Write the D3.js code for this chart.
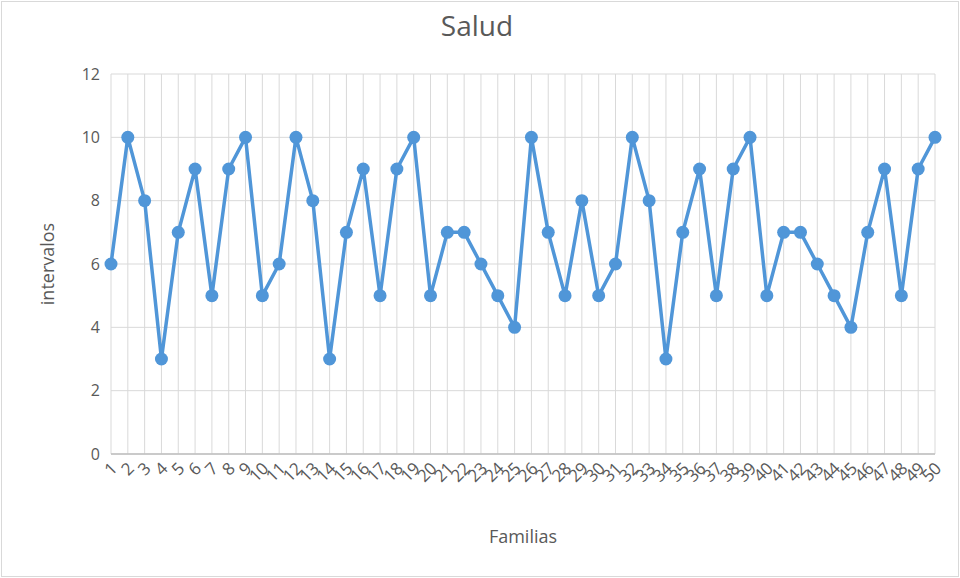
<!DOCTYPE html>
<html>
<head>
<meta charset="utf-8">
<script src="https://cdn.jsdelivr.net/npm/d3@7"></script>
<style>
  body { margin: 0; background: #fff; }
  text { font-family: "Open Sans", "Noto Sans", sans-serif; fill: #595959; }
</style>
</head>
<body>
<div id="chart"></div>
<script>
// data
var familias = d3.range(1, 51);
var intervalos = [6, 10, 8, 3, 7, 9, 5, 9, 10, 5,
                  6, 10, 8, 3, 7, 9, 5, 9, 10, 5,
                  7, 7, 6, 5, 4, 10, 7, 5, 8, 5,
                  6, 10, 8, 3, 7, 9, 5, 9, 10, 5,
                  7, 7, 6, 5, 4, 7, 9, 5, 9, 10];
var yTicks = [0, 2, 4, 6, 8, 10, 12];

var width = 960, height = 578;
var margin = {top: 74, right: 25, bottom: 124, left: 111};

var svg = d3.select("#chart").append("svg")
    .attr("width", width)
    .attr("height", height);

// chart border
svg.append("rect")
    .attr("x", 1.5).attr("y", 1.5)
    .attr("width", width - 3).attr("height", height - 3)
    .attr("fill", "#fff")
    .attr("stroke", "#d9d9d9");

var x = d3.scalePoint()
    .domain(familias)
    .range([margin.left, width - margin.right]);

var y = d3.scaleLinear()
    .domain([0, 12])
    .range([height - margin.bottom, margin.top]);

// horizontal gridlines
svg.append("g").selectAll("line")
    .data(yTicks)
    .enter().append("line")
    .attr("x1", margin.left).attr("x2", width - margin.right)
    .attr("y1", function(d) { return y(d); })
    .attr("y2", function(d) { return y(d); })
    .attr("stroke", "#d9d9d9")
    .attr("stroke-width", 1);

// vertical gridlines
svg.append("g").selectAll("line")
    .data(familias)
    .enter().append("line")
    .attr("x1", function(d) { return x(d); })
    .attr("x2", function(d) { return x(d); })
    .attr("y1", y(12)).attr("y2", y(0))
    .attr("stroke", "#d9d9d9")
    .attr("stroke-width", 1);

// bottom axis line
svg.append("line")
    .attr("x1", margin.left).attr("x2", width - margin.right)
    .attr("y1", y(0)).attr("y2", y(0))
    .attr("stroke", "#bfbfbf")
    .attr("stroke-width", 1.5);

// y tick labels
svg.append("g").selectAll("text")
    .data(yTicks)
    .enter().append("text")
    .attr("x", margin.left - 11)
    .attr("y", function(d) { return y(d); })
    .attr("dy", "0.35em")
    .attr("text-anchor", "end")
    .style("font-size", "16px")
    .text(function(d) { return d; });

// x tick labels, rotated
svg.append("g").selectAll("text")
    .data(familias)
    .enter().append("text")
    .attr("text-anchor", "end")
    .attr("transform", function(d) {
        return "translate(" + (x(d) + 7) + "," + (y(0) + 16) + ") rotate(-45)";
    })
    .style("font-size", "17px")
    .style("letter-spacing", "-0.5px")
    .text(function(d) { return d; });

// line
var line = d3.line()
    .x(function(d, i) { return x(familias[i]); })
    .y(function(d) { return y(d); });

svg.append("path")
    .datum(intervalos)
    .attr("d", line)
    .attr("fill", "none")
    .attr("stroke", "#5096d8")
    .attr("stroke-width", 3.5)
    .attr("stroke-linejoin", "round");

svg.append("g").selectAll("circle")
    .data(intervalos)
    .enter().append("circle")
    .attr("cx", function(d, i) { return x(familias[i]); })
    .attr("cy", function(d) { return y(d); })
    .attr("r", 6.5)
    .attr("fill", "#5096d8");

// titles
svg.append("text")
    .attr("x", 477).attr("y", 36)
    .attr("text-anchor", "middle")
    .style("font-size", "28px")
    .text("Salud");

svg.append("text")
    .attr("transform", "translate(54," + ((y(0) + y(12)) / 2) + ") rotate(-90)")
    .attr("text-anchor", "middle")
    .style("font-size", "18px")
    .text("intervalos");

svg.append("text")
    .attr("x", (margin.left + width - margin.right) / 2)
    .attr("y", 543)
    .attr("text-anchor", "middle")
    .style("font-size", "18px")
    .text("Familias");
</script>
</body>
</html>
